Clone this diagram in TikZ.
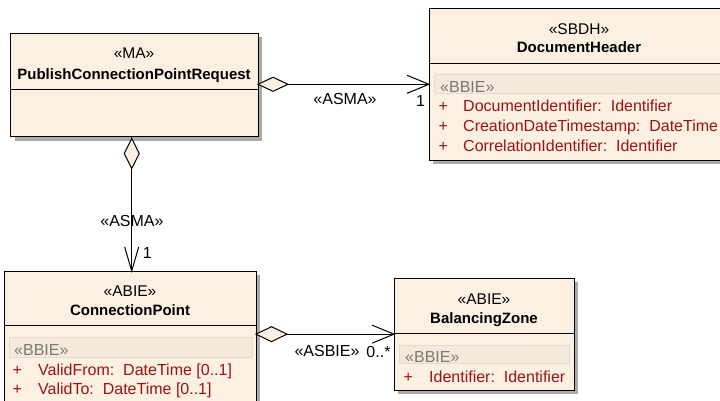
\documentclass[tikz,border=0pt]{standalone}
\usepackage{fontspec}
\setmainfont{Liberation Sans}
\usetikzlibrary{shadows}
\definecolor{cream}{RGB}{251,240,226}
\definecolor{bandfill}{RGB}{243,234,221}
\definecolor{bandline}{RGB}{226,219,209}
\definecolor{attrred}{RGB}{155,20,20}
\definecolor{bbiegray}{RGB}{128,120,112}
\definecolor{shadowgray}{RGB}{170,170,170}
\begin{document}
\begin{tikzpicture}[x=1pt,y=-1pt,
  classbox/.style={draw=black,line width=1pt,fill=cream,inner sep=0pt,outer sep=0pt,anchor=north west,
    drop shadow={shadow xshift=4pt,shadow yshift=-4pt,fill=shadowgray,opacity=1}},
  stereo/.style={font=\fontsize{15.5}{18}\selectfont,inner sep=0pt,anchor=base},
  cname/.style={font=\bfseries\fontsize{15}{18}\selectfont,inner sep=0pt,anchor=base},
  attr/.style={font=\fontsize{16}{19}\selectfont,text=attrred,inner sep=0pt,anchor=base west},
  bbie/.style={font=\fontsize{16}{19}\selectfont,text=bbiegray,inner sep=0pt,anchor=base west},
  band/.style={fill=bandfill,draw=bandline,line width=0.6pt},
  divider/.style={line width=1pt},
  conn/.style={line width=1pt},
  diam/.style={line width=1pt,fill=cream,line join=miter},
  lbl/.style={font=\fontsize{16}{19}\selectfont,inner sep=0pt,anchor=base}
]
\useasboundingbox (0,0) rectangle (720,401);
\clip (0,0) rectangle (720,401);
\fill[white] (0,0) rectangle (720,401);

% ---- boxes
\node[classbox,minimum width=247.5pt,minimum height=103.7pt] (pcpr) at (10.5,33.3) {};
\node[classbox,minimum width=300pt,minimum height=152pt] (dh) at (429,8.3) {};
\node[classbox,minimum width=251.7pt,minimum height=150pt] (cp) at (4.3,271) {};
\node[classbox,minimum width=180pt,minimum height=111.7pt] (bz) at (394,278.3) {};

% ---- dividers
\draw[divider] (pcpr.west |- 0,89.7) -- (pcpr.east |- 0,89.7);
\draw[divider] (dh.west |- 0,63.3) -- (dh.east |- 0,63.3);
\draw[divider] (cp.west |- 0,325.7) -- (cp.east |- 0,325.7);
\draw[divider] (bz.west |- 0,333) -- (bz.east |- 0,333);

% ---- BBIE bands
\draw[band] (434,74) rectangle (740,93);
\draw[band] (9,337) rectangle (252,357);
\draw[band] (399,345) rectangle (569,363);

% ---- PublishConnectionPointRequest
\node[stereo] (pcprs) at (134,59) {«MA»};
\node[cname] (pcprn) at (134,79.3) {PublishConnectionPointRequest};

% ---- DocumentHeader
\node[stereo] (dhs) at (579,34.3) {«SBDH»};
\node[cname] (dhn) at (579,52.7) {DocumentHeader};
\node[bbie] (dhb) at (440,92.7) {«BBIE»};
\node[attr] (dhp1) at (438.5,111.7) {+};
\node[attr] (dha1) at (463,111.7) {DocumentIdentifier:\ \ Identifier};
\node[attr] (dhp2) at (438.5,131.7) {+};
\node[attr] (dha2) at (463,131.7) {CreationDateTimestamp:\ \ DateTime};
\node[attr] (dhp3) at (438.5,151) {+};
\node[attr] (dha3) at (463,151) {CorrelationIdentifier:\ \ Identifier};

% ---- ConnectionPoint
\node[stereo] (cps) at (130,296.7) {«ABIE»};
\node[cname] (cpn) at (130,315) {ConnectionPoint};
\node[bbie] (cpb) at (14,355) {«BBIE»};
\node[attr] (cpp1) at (12.5,375) {+};
\node[attr] (cpa1) at (38,375) {ValidFrom:\ \ DateTime [0..1]};
\node[attr] (cpp2) at (12.5,394.3) {+};
\node[attr] (cpa2) at (38,394.3) {ValidTo:\ \ DateTime [0..1]};

% ---- BalancingZone
\node[stereo] (bzs) at (484,304.3) {«ABIE»};
\node[cname] (bzn) at (484,323.3) {BalancingZone};
\node[bbie] (bzb) at (405,362.3) {«BBIE»};
\node[attr] (bzp1) at (403.5,382.3) {+};
\node[attr] (bza1) at (429,382.3) {Identifier:\ \ Identifier};

% ---- connector 1: PCPR -> DocumentHeader
\draw[conn] (pcpr.east |- dh.west) -- (dh.west);
\draw[diam] (pcpr.east |- dh.west) -- ++(15,-7) -- ++(15,7) -- ++(-15,7) -- cycle;
\draw[conn] (dh.west) ++(-22,-9) -- (dh.west) -- ++(-22,9);
\node[lbl] (l1) at (345,105) {«ASMA»};
\node[lbl] (m1) at (420.5,107) {1};

% ---- connector 2: PCPR -> ConnectionPoint
\draw[conn] (pcpr.south -| 131.7,0) -- (cp.north -| 131.7,0);
\draw[diam] (131.7,138.5) -- ++(7.5,15) -- ++(-7.5,15) -- ++(-7.5,-15) -- cycle;
\draw[conn] (cp.north -| 131.7,0) ++(-7,-24) -- (cp.north -| 131.7,0) -- ++(7,-24);
\node[lbl] (l2) at (132,226) {«ASMA»};
\node[lbl] (m2) at (147.2,258.3) {1};

% ---- connector 3: ConnectionPoint -> BalancingZone
\draw[conn] (cp.east |- bz.west) -- (bz.west);
\draw[diam] (cp.east |- bz.west) -- ++(15.5,-7.5) -- ++(15.5,7.5) -- ++(-15.5,7.5) -- cycle;
\draw[conn] (bz.west) ++(-22,-9) -- (bz.west) -- ++(-22,9);
\node[lbl] (l3) at (327,356) {«ASBIE»};
\node[lbl] (m3) at (378.5,357.3) {0..*};
\end{tikzpicture}
\end{document}
